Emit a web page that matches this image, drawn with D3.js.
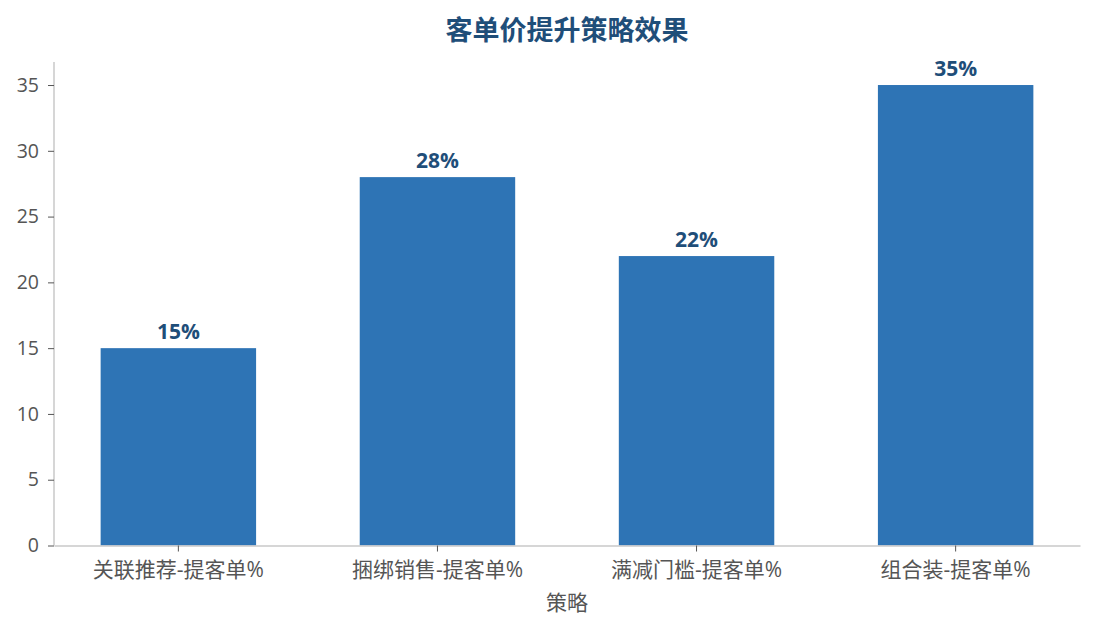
<!DOCTYPE html>
<html>
<head>
<meta charset="utf-8">
<script src="https://cdn.jsdelivr.net/npm/d3@7"></script>
<style>
    body { margin: 0; background: #fff; }
    svg { display: block; font-family: "Open Sans", "Noto Sans CJK SC", sans-serif; }
</style>
</head>
<body>
<div id="chart"></div>
<script>
// 数据
const categories = ['关联推荐-提客单%', '捆绑销售-提客单%', '满减门槛-提客单%', '组合装-提客单%'];
const values = [15, 28, 22, 35];
const yTicks = [0, 5, 10, 15, 20, 25, 30, 35];

const width = 1095, height = 630;
const margin = { left: 54, right: 1080, top: 62, bottom: 545.5 };

const svg = d3.select('#chart')
    .append('svg')
    .attr('width', width)
    .attr('height', height);

const x = d3.scaleBand()
    .domain(categories)
    .range([margin.left, margin.right])
    .paddingInner(0.4)
    .paddingOuter(0.18);

const y = d3.scaleLinear()
    .domain([0, d3.max(values) * 1.05])
    .range([margin.bottom, margin.top]);

// 标题
svg.append('text')
    .attr('x', (margin.left + margin.right) / 2)
    .attr('y', 40)
    .attr('text-anchor', 'middle')
    .attr('font-size', 27)
    .attr('font-weight', 'bold')
    .attr('fill', '#1f4e79')
    .text('客单价提升策略效果');

// 柱子
svg.selectAll('.bar')
    .data(values)
    .enter().append('rect')
    .attr('class', 'bar')
    .attr('x', (d, i) => x(categories[i]))
    .attr('y', d => y(d))
    .attr('width', x.bandwidth())
    .attr('height', d => y(0) - y(d))
    .attr('fill', '#2e74b5');

// 数值标签
svg.selectAll('.val')
    .data(values)
    .enter().append('text')
    .attr('class', 'val')
    .attr('x', (d, i) => x(categories[i]) + x.bandwidth() / 2)
    .attr('y', d => y(d) - 9)
    .attr('text-anchor', 'middle')
    .attr('font-size', 21)
    .attr('font-weight', 'bold')
    .attr('fill', '#1f4e79')
    .text(d => d + '%');

// 坐标轴
const xAxis = svg.append('g')
    .attr('transform', `translate(0,${margin.bottom})`)
    .call(d3.axisBottom(x).tickSize(6).tickPadding(11).tickSizeOuter(0));

const yAxis = svg.append('g')
    .attr('transform', `translate(${margin.left},0)`)
    .call(d3.axisLeft(y).tickValues(yTicks).tickSize(6).tickPadding(9).tickSizeOuter(0));

[xAxis, yAxis].forEach(g => {
    g.select('.domain').attr('stroke', '#c8c8c8').attr('stroke-width', 1.5);
    g.selectAll('.tick line').attr('stroke', '#555');
    g.selectAll('.tick text')
        .attr('fill', '#555')
        .attr('font-size', 19.5)
        .attr('font-family', '"Open Sans", "Noto Sans CJK SC", sans-serif');
});
xAxis.selectAll('.tick text').attr('font-size', 21);

// 顶部补齐 y 轴线
yAxis.select('.domain').attr('d', `M0,${margin.top}V${margin.bottom}`);

// x 轴标题
svg.append('text')
    .attr('x', (margin.left + margin.right) / 2)
    .attr('y', 610)
    .attr('text-anchor', 'middle')
    .attr('font-size', 21)
    .attr('fill', '#555')
    .text('策略');
</script>
</body>
</html>
